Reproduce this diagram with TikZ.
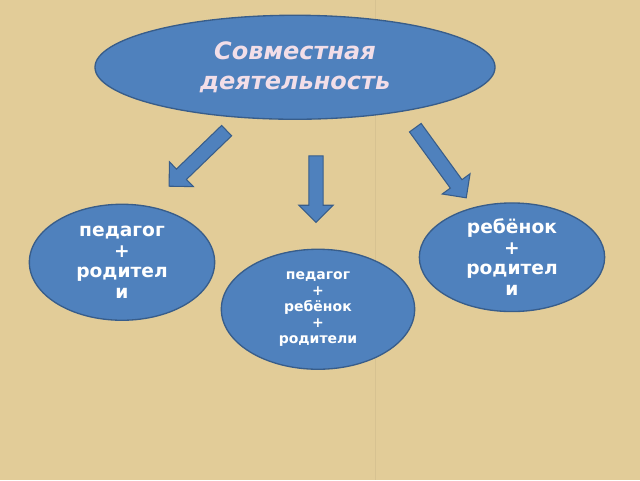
\documentclass[tikz,border=0pt]{standalone}
\usepackage{fontspec}
\setmainfont{DejaVu Sans}
\usetikzlibrary{shapes.arrows,shapes.geometric}
\definecolor{paper}{RGB}{226,204,152}
\definecolor{ovalblue}{RGB}{79,129,189}
\definecolor{ovalline}{RGB}{56,93,138}
\definecolor{titlepink}{RGB}{242,222,232}
\tikzset{
  oval/.style={ellipse, draw=ovalline, line width=1pt, fill=ovalblue, inner sep=0pt},
  blockarrow/.style={single arrow, draw=ovalline, line width=0.8pt, fill=ovalblue,
    inner sep=5pt, single arrow head extend=7.5pt, minimum height=#1, anchor=tail},
}
\begin{document}
\begin{tikzpicture}[x=0.75pt,y=0.75pt,yscale=-1,xscale=1]
        \fill[paper] (0,0) rectangle (640,480);
        \draw[paper!85!black, opacity=0.3] (375,0) -- (375,480);
        % main oval
        \node[oval, minimum width=300, minimum height=78, text=titlepink, align=center,
          font=\bfseries\itshape\fontsize{18}{22}\selectfont] (joint) at (295,67) {Совместная\\деятельность};
        % arrows
        \node[blockarrow=60, rotate=-136] (arrL) at (227,130) {};
        \node[blockarrow=50, rotate=-90] (arrM) at (316,155) {};
        \node[blockarrow=65, rotate=-54] (arrR) at (415,127) {};
        % lower ovals
        \node[oval, minimum width=139, minimum height=87, text=white, align=center,
          font=\bfseries\fontsize{14}{15.5}\selectfont] (pedpar) at (122,262) {педагог\\+\\родител\\и};
        \node[oval, minimum width=139, minimum height=72, text=white, align=center,
          font=\bfseries\fontsize{14}{15.5}\selectfont] (chpar) at (512,257) {ребёнок\\+\\родител\\и};
        \node[oval, minimum width=145, minimum height=90, text=white, align=center,
          font=\bfseries\fontsize{10.5}{12}\selectfont] (all) at (318,309) {педагог\\+\\ребёнок\\+\\родители};
\end{tikzpicture}
\end{document}
